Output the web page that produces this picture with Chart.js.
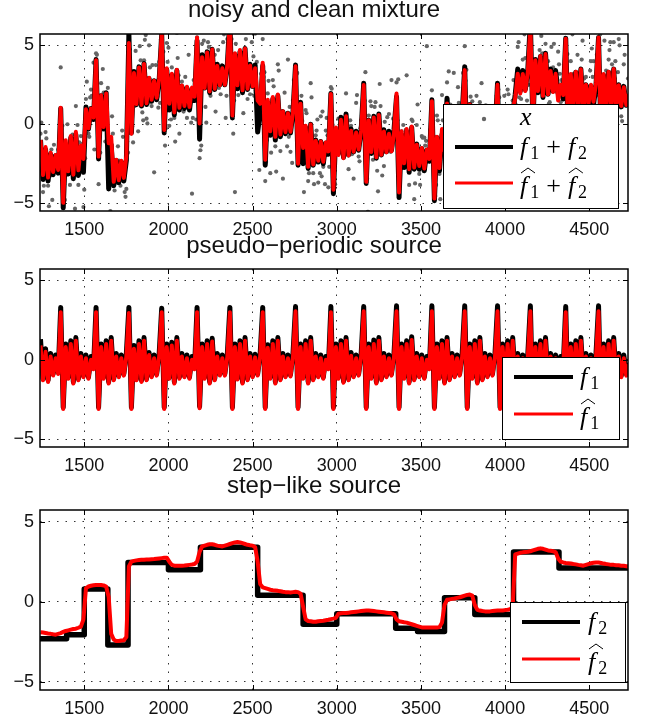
<!DOCTYPE html>
<html>
<head>
<meta charset="utf-8">
<script src="https://cdn.jsdelivr.net/npm/chart.js@4.4.0/dist/chart.umd.min.js"></script>
<style>
  html, body { margin: 0; padding: 0; background: #fff; }
  canvas { position: absolute; left: 0; }
</style>
</head>
<body>
<canvas id="mixChart" width="647" height="236" style="top:0"></canvas>
<canvas id="periodicChart" width="647" height="236" style="top:236px"></canvas>
<canvas id="stepChart" width="647" height="246" style="top:476px"></canvas>
<script>
// ---- axes ----
const xTicks = [1500, 2000, 2500, 3000, 3500, 4000, 4500];
const yTicks = [-5, 0, 5];
const xMin = 1237, xMax = 4730;
const yMin = -5.5, yMax = 5.72;

const titles = ['noisy and clean mixture', 'pseudo\u2212periodic source', 'step\u2212like source'];

// samples are read every 15 time steps, starting at 1240
const gridStart = 1240;
const gridStep = 15;

// pseudo-periodic source f1 (black)
const f1 = [
  1.3, -1.2, 0.7, -1.3, 0.4, -0.9, 0.3, -0.8,
  3.3, -3.0, 1.0, -1.1, 1.2, -1.4, 1.4, -1.2, 0.4, -1.0, 0.3, -1.1, 0.2, -0.5,
  3.3, -3.0, 1.0, -1.1, 1.2, -1.4, 1.4, -1.2, 0.4, -1.0, 0.3, -0.9, 0.4,
  3.3, -3.0, 0.9, -1.2, 1.2, -1.3, 1.4, -1.2, 0.45, -1.0, 0.3, -0.9, 0.4,
  3.25, -3.0, 1.0, -1.1, 1.1, -1.4, 1.4, -1.1, 0.4, -1.0, 0.3, -1.1, 0.2, -0.5,
  3.3, -2.95, 1.0, -1.1, 1.2, -1.4, 1.35, -1.2, 0.4, -0.9, 0.3, -0.9, 0.4,
  3.3, -3.0, 1.0, -1.15, 1.2, -1.4, 1.4, -1.2, 0.4, -1.0, 0.35, -0.9, 0.4,
  3.3, -3.0, 0.95, -1.1, 1.2, -1.4, 1.4, -1.2, 0.4, -1.0, 0.3, -0.95, 0.4,
  3.35, -3.0, 1.0, -1.1, 1.2, -1.4, 1.4, -1.2, 0.4, -1.0, 0.3, -1.1, 0.2, -0.5,
  3.35, -3.0, 1.0, -1.1, 1.2, -1.35, 1.4, -1.2, 0.45, -1.0, 0.3, -0.9, 0.4,
  3.35, -3.0, 1.0, -1.1, 1.25, -1.4, 1.4, -1.2, 0.4, -1.0, 0.3, -0.9, 0.4,
  3.4, -3.0, 1.0, -1.1, 1.2, -1.4, 1.45, -1.2, 0.4, -1.0, 0.3, -1.1, 0.2, -0.5,
  3.4, -3.0, 1.0, -1.1, 1.2, -1.4, 1.4, -1.2, 0.4, -1.0, 0.3, -0.9, 0.4,
  3.4, -3.0, 1.0, -1.1, 1.2, -1.4, 1.4, -1.2, 0.4, -1.0, 0.3, -0.9, 0.4,
  3.4, -3.0, 1.0, -1.1, 1.2, -1.4, 1.4, -1.2, 0.4, -1.0, 0.3, -0.9, 0.4,
  3.4, -3.0, 1.0, -1.1, 1.2, -1.4, 1.4, -1.2, 0.4, -1.0, 0.3, -1.1, 0.2, -0.5,
  3.35, -3.0, 1.0, -1.1, 1.2, -1.4, 1.4, -1.2, 0.4, -1.0, 0.3, -0.9, 0.4,
  3.4, -3.0, 1.0, -1.1, 1.2, -1.4, 1.4, -1.2, 0.4, -1.0, 0.3, -0.9, -0.2
];

// estimated pseudo-periodic source (red)
const f1Hat = [
  0.9, -1.3, 0.5, -1.4, 0.2, -1.0, 0.1, -0.9,
  3.0, -3.1, 0.8, -1.2, 1.0, -1.5, 1.2, -1.3, 0.2, -1.1, 0.1, -1.2, 0.0, -0.6,
  3.0, -3.1, 0.8, -1.2, 1.0, -1.5, 1.2, -1.3, 0.2, -1.1, 0.1, -1.0, 0.2,
  2.95, -3.1, 0.7, -1.3, 1.0, -1.4, 1.2, -1.3, 0.3, -1.1, 0.1, -1.0, 0.2,
  3.0, -3.1, 0.8, -1.2, 0.9, -1.5, 1.2, -1.2, 0.2, -1.1, 0.1, -1.2, 0.0, -0.6,
  3.0, -3.05, 0.8, -1.2, 1.0, -1.5, 1.15, -1.3, 0.2, -1.0, 0.1, -1.0, 0.2,
  3.0, -3.1, 0.8, -1.25, 1.0, -1.5, 1.2, -1.3, 0.2, -1.1, 0.15, -1.0, 0.2,
  3.0, -3.1, 0.75, -1.2, 1.0, -1.5, 1.2, -1.3, 0.2, -1.1, 0.1, -1.05, 0.2,
  3.05, -3.1, 0.8, -1.2, 1.0, -1.5, 1.2, -1.3, 0.2, -1.1, 0.1, -1.2, 0.0, -0.6,
  3.0, -3.1, 0.8, -1.2, 1.0, -1.45, 1.2, -1.3, 0.25, -1.1, 0.1, -1.0, 0.2,
  3.05, -3.1, 0.8, -1.2, 1.0, -1.5, 1.2, -1.3, 0.2, -1.1, 0.1, -1.0, 0.2,
  3.05, -3.1, 0.8, -1.2, 1.0, -1.5, 1.25, -1.3, 0.2, -1.1, 0.1, -1.2, 0.0, -0.6,
  3.05, -3.1, 0.8, -1.2, 1.0, -1.5, 1.2, -1.3, 0.2, -1.1, 0.1, -1.0, 0.2,
  3.05, -3.1, 0.8, -1.2, 1.0, -1.5, 1.2, -1.3, 0.2, -1.1, 0.1, -1.0, 0.2,
  3.05, -3.1, 0.8, -1.2, 1.0, -1.5, 1.2, -1.3, 0.2, -1.1, 0.1, -1.0, 0.2,
  3.05, -3.1, 0.8, -1.2, 1.0, -1.5, 1.2, -1.3, 0.2, -1.1, 0.1, -1.2, 0.0, -0.6,
  3.0, -3.1, 0.8, -1.2, 1.0, -1.5, 1.2, -1.3, 0.2, -1.1, 0.1, -1.0, 0.2,
  3.05, -3.1, 0.8, -1.2, 1.0, -1.5, 1.2, -1.3, 0.2, -1.1, 0.1, -1.0, -0.3
];

// step-like source f2: level held from each edge to the next
const f2Edges = [1237, 1395, 1500, 1640, 1760, 2000, 2190, 2530, 2800, 3000, 3350, 3480, 3640, 3820, 4050, 4320, 4735];
const f2Levels = [-2.3, -2.05, 0.8, -2.7, 2.45, 2.0, 3.4, 0.4, -1.4, -0.75, -1.65, -1.85, 0.25, -0.8, 3.1, 2.1];

// estimated step-like source (red), on the sample grid
const f2Hat = [
  -1.9, -1.92, -1.95, -1.98, -2.0, -2.03, -2.05, -2.0, -1.95, -1.88,
  -1.82, -1.78, -1.74, -1.7, -1.68, -1.62, -1.55, -1.1,
  0.85, 0.95, 1.0, 1.03, 1.05, 1.05, 1.04, 1.02, 0.95, 0.3,
  -2.0, -2.35, -2.45, -2.45, -2.42, -2.4, -2.2,
  2.2,
  2.5, 2.55, 2.58, 2.6, 2.62, 2.62, 2.63, 2.64, 2.65, 2.66, 2.68, 2.7, 2.72, 2.74, 2.75,
  2.5, 2.3,
  2.25, 2.25, 2.24, 2.25, 2.26, 2.28, 2.3, 2.32, 2.35, 2.5,
  3.1, 3.45,
  3.5, 3.55, 3.58, 3.58, 3.55, 3.5, 3.47, 3.45,
  3.5, 3.55, 3.6, 3.65, 3.7, 3.72, 3.7, 3.65,
  3.6, 3.55, 3.52, 3.5, 3.4,
  2.5, 1.1,
  0.9, 0.85, 0.8, 0.75, 0.72, 0.7, 0.68, 0.65,
  0.62, 0.6, 0.6, 0.58, 0.6, 0.62, 0.6, 0.5,
  -0.3, -1.1,
  -1.2, -1.22, -1.25, -1.25, -1.22, -1.2, -1.18, -1.15, -1.12, -1.08, -1.05,
  -1.0, -0.75,
  -0.72, -0.7, -0.7, -0.68, -0.66, -0.64, -0.62, -0.6, -0.58,
  -0.56, -0.55, -0.55, -0.56, -0.58, -0.6, -0.62, -0.64,
  -0.66, -0.68, -0.7, -0.72, -0.78,
  -1.1,
  -1.22, -1.25, -1.28, -1.3, -1.35, -1.4, -1.45,
  -1.5, -1.55, -1.6, -1.6, -1.6, -1.6, -1.6, -1.6, -1.6, -1.58,
  -1.3, -0.2,
  0.12, 0.15, 0.18, 0.2, 0.24, 0.28, 0.33, 0.38, 0.43, 0.45,
  0.38, -0.2, -0.5,
  -0.55, -0.58, -0.6, -0.6, -0.6, -0.58, -0.56, -0.55, -0.55, -0.55, -0.52, -0.5, -0.47,
  -0.3, 2.95,
  3.0, 3.05, 3.08, 3.1, 3.12, 3.15, 3.2, 3.25, 3.3,
  3.33, 3.3, 3.25, 3.2, 3.18, 3.15,
  3.1, 2.7, 2.5,
  2.45, 2.42, 2.4, 2.38, 2.35, 2.33, 2.3,
  2.28, 2.25, 2.3, 2.35, 2.4, 2.43,
  2.45, 2.45, 2.42, 2.38, 2.35, 2.33,
  2.3, 2.3, 2.28, 2.27, 2.25, 2.24, 2.22, 2.2
];

// deviation of the noisy samples x from the clean mixture (three samples per grid step)
const noiseA = [
  0.4, -0.8, 1.1, -0.3, -1.2, 0.6, -0.5, 1.5, 2.6, 0.9,
  -0.9, 0.7, -1.4, 0.2, 1.8, -0.6, 0.9, -2.2, 0.5, -0.3,
  1.2, 3.6, 0.4, -1.6, 0.8, 2.3, -0.4, 1.0, -2.5, 0.6,
  -1.1, 1.4, -0.2, 0.9, -1.8, 0.3, 1.9, -0.5, 0.7, -1.3,
  0.8, 0.2, -0.9, 2.1, -0.3, -5.8, 1.2, 1.1, -0.6, 0.4,
  1.7, -1.0, 0.5, -0.2, 2.4, -1.5, 0.3, 0.9, -1.9, 0.6,
  -6.6, 1.3, 0.2, -1.2, 0.7, -8.0, -0.8, 0.4, -1.6, 2.2,
  -0.3, 1.0, -1.1, 0.5, 1.6, -0.7, -7.4, -8.7, 0.8, -1.4,
  0.3, 1.5, -0.6, -1.9, 0.9, 2.0, -7.45, 0.2, 1.7, -1.0,
  0.6, -2.4, 1.2, -0.4, 2.0, -0.9, -4.25, 0.5, 3.4, -1.2,
  0.7, -0.3, 1.9, -1.6, 0.4, 1.1, -0.8, 2.6, -0.5, 0.3,
  -1.3, 1.6, -0.2, 0.8, -2.1, 0.4, 1.0, -0.7, 2.2, -1.1,
  0.5, 1.3, -0.9, 0.2, -1.7, 1.8, -0.4, 0.6, -1.2, 3.65,
  0.3, 3.0, -1.0, 0.7, -0.5, 1.5, -2.3, 0.4, 1.1, 4.45,
  -0.6, 0.9, -1.4, 0.2, 1.7, 3.55, -0.8, 0.5, -1.9, 1.2,
  -0.3, 0.8, 2.1, 6.6, -4.25, 0.6, -1.1, 1.4, -0.2, 2.5,
  -0.7, 1.0, -1.5, 0.3, 1.9, -0.4, 0.7, -2.6, 1.3, 0.1,
  -0.9, 2.3, 0.4, -1.2, 0.8, 3.1, -0.5, 1.6, -1.8, 0.6,
  1.1, -0.3, 2.7, -1.0, 0.5, 1.8, -2.0, 0.9, -0.6, 1.4,
  -1.3, 0.7, 2.0, -0.4, 1.2, -0.8, 2.4, 0.3, -1.5, 1.9,
  0.6, 2.1, -1.1, 1.5, -0.2, 2.6, -0.9, 0.4, 1.8, -1.4,
  0.9, 2.2, -0.5, 1.3, -1.7, 2.0, 0.5, -1.0, 1.6, 2.8,
  -0.7, 1.1, 0.3, -1.8, 2.4, 0.8, -1.2, 1.7, 0.2, 2.9,
  -0.6, 1.4, 0.5, -1.3
];
const noiseB = [
  -0.6, 0.9, -1.5, 0.3, -2.9, 1.2, -0.4, 0.8, -1.1, 0.5,
  1.3, -0.7, 0.2, -1.9, 0.6, 1.5, -0.3, 0.9, -1.2, 2.0,
  -0.5, 1.1, -2.3, 0.4, 1.7, -0.8, 0.3, -1.4, 0.7, -2.6,
  0.9, -0.2, 1.6, -1.0, 0.5, 2.2, -0.6, 1.3, -1.7, 0.4,
  -0.9, 1.8, 0.1, -1.3, 0.7, 1.0, -0.5, 2.5, -1.1, 0.3,
  1.4, -0.6, -2.0, 0.8, -0.3, 1.2, -1.6, 0.5, 2.1, -0.8,
  0.6, -1.2, 1.7, -0.4, 0.9, -2.2, 0.3, 1.5, -0.9, 0.4,
  -1.5, 0.8, 2.0, -0.7, 0.4, -1.3, 1.1, -0.2, 1.9, -1.0,
  0.5, -1.8, 0.9, 1.4, -0.6, 0.2, -2.4, 1.0, -0.4, 1.6,
  -1.1, 0.7, -0.3, 2.3, -1.4, 0.6, 1.2, -0.8, 0.4, -1.9,
  1.5, -0.5, 0.8, -1.2, 2.1, -0.3, 0.9, -1.6, 0.2, 1.3,
  -0.7, 1.9, -1.3, 0.5, 1.0, -2.0, 0.6, -0.4, 1.7, -0.9,
  0.3, -1.5, 2.2, -0.6, 0.8, -1.1, 1.4, -0.2, 0.7, -1.8,
  1.2, -0.4, 0.9, -2.1, 0.5, 1.6, -0.8, 0.3, -1.3, 2.0,
  -0.5, 1.1, -1.7, 0.6, 2.4, -0.9, 0.4, -1.2, 1.5, -0.3,
  0.8, -1.4, 1.9, -0.6, 0.2, -2.3, 1.0, -0.7, 1.3, -1.0,
  0.5, 1.7, -0.9, 2.6, -0.4, 0.8, -1.5, 1.2, -0.2, 1.8,
  -1.1, 0.6, 1.4, -0.8, 2.0, -0.3, 0.9, -1.6, 1.5, 0.3,
  2.2, -0.9, 0.7, 1.6, -1.3, 0.4, 2.5, -0.6, 1.1, -1.8,
  0.9, 2.3, -0.7, 1.4, -0.4, 1.9, -1.2, 2.7, 0.2, -0.9,
  1.6, -0.5, 2.4, 0.8, -1.4, 1.2, 0.3, 2.0, -1.0, 0.7,
  2.6, -0.3, 1.1, -1.6, 1.8, 0.4, -0.8, 2.3, 0.6, -1.2,
  1.5, 0.2, 2.1, -0.9, 0.7, 1.9, -1.5, 0.5, 2.4, -0.4,
  1.0, -1.1, 1.7, 0.3
];
const noiseC = [
  1.1, -0.4, 0.7, -1.6, 0.3, 1.9, -0.8, 0.2, -1.3, 1.5,
  -0.2, 1.2, -1.7, 0.6, -0.9, 2.1, 0.4, -1.1, 1.6, -0.5,
  0.8, -1.9, 0.3, 1.4, -0.6, 1.1, -2.0, 0.5, 1.8, -0.3,
  -1.4, 0.6, 2.0, -0.7, 1.2, -1.0, 0.4, -2.2, 0.9, 1.3,
  -0.4, 1.5, -1.2, 0.7, 2.3, -0.6, 0.2, -1.5, 1.0, -0.8,
  0.5, 1.9, -0.3, -1.7, 0.8, 1.4, -0.9, 2.0, -0.5, 1.1,
  -1.8, 0.4, 1.3, -0.7, 2.1, -1.2, 0.6, -0.2, 1.7, -1.4,
  0.9, -0.6, 1.5, -2.1, 0.3, 1.8, -1.0, 0.7, -0.4, 2.2,
  -1.3, 0.6, 1.1, -0.8, 1.9, -1.6, 0.4, 2.4, -0.7, 0.2,
  1.4, -1.1, 0.8, -2.0, 1.6, 0.3, -0.9, 1.2, -1.5, 0.5,
  2.0, -0.6, 1.3, 0.4, -1.8, 0.9, -0.3, 1.7, -1.2, 0.6,
  1.1, -2.2, 0.5, 1.6, -0.8, 0.3, 2.1, -1.4, 0.7, -0.5,
  1.8, -0.9, 0.4, -1.6, 1.2, 2.3, -0.7, 0.9, -1.1, 0.3,
  -2.0, 1.4, 0.6, -0.8, 1.9, -1.3, 0.5, 2.2, -0.6, 1.0,
  0.2, -1.5, 1.7, -0.4, 0.8, -2.1, 1.3, 0.4, -0.9, 2.5,
  -1.0, 0.7, 1.6, -0.5, 2.0, -1.4, 0.3, 1.1, -1.8, 0.9,
  1.5, -0.7, 2.2, 0.4, -1.2, 1.8, -0.3, 2.6, -0.9, 1.0,
  0.5, 1.9, -1.1, 2.4, 0.2, -0.8, 1.6, 0.9, -1.5, 2.1,
  1.2, -0.4, 2.8, 0.6, -1.3, 1.5, 0.3, 2.2, -0.7, 1.7,
  -0.5, 2.5, 0.8, -1.0, 1.9, 0.4, 2.6, -1.2, 1.3, 0.7,
  2.3, -0.6, 1.4, 3.0, -0.9, 1.8, 0.5, -1.4, 2.1, 0.9,
  -0.3, 1.6, 2.7, -1.1, 0.6, 2.0, -0.4, 1.3, 2.4, -0.8,
  1.9, 0.3, -1.0, 2.2, 0.7, 1.4, 3.1, -0.6, 1.1, 2.5,
  -0.9, 2.0, 0.6, 1.5
];

// legend labels: pieces of math text
const mixLabels = [
  [{ t: 'x' }],
  [{ t: 'f', sub: '1' }, { op: '+' }, { t: 'f', sub: '2' }],
  [{ t: 'f', sub: '1', hat: true }, { op: '+' }, { t: 'f', sub: '2', hat: true }]
];
const periodicLabels = [
  [{ t: 'f', sub: '1' }],
  [{ t: 'f', sub: '1', hat: true }]
];
const stepLabels = [
  [{ t: 'f', sub: '2' }],
  [{ t: 'f', sub: '2', hat: true }]
];

// ---- build series ----
const sampleX = f1.map((_, i) => gridStart + gridStep * i);

function f2At(x) {
  let k = 0;
  while (k < f2Levels.length - 1 && x >= f2Edges[k + 1]) k++;
  return f2Levels[k];
}

const f1Points = sampleX.map((x, i) => ({ x, y: f1[i] }));
const f1HatPoints = sampleX.map((x, i) => ({ x, y: f1Hat[i] }));
const f2HatPoints = sampleX.map((x, i) => ({ x, y: f2Hat[i] }));
const f2Points = f2Levels.map((v, k) => ({ x: f2Edges[k], y: v }));
f2Points.push({ x: f2Edges[f2Edges.length - 1], y: f2Levels[f2Levels.length - 1] });

const cleanMix = sampleX.map((x, i) => ({ x, y: f1[i] + f2At(x) }));
const estMix = sampleX.map((x, i) => ({ x, y: f1Hat[i] + f2Hat[i] }));
const noisyMix = [];
sampleX.forEach((x, i) => {
  noisyMix.push({ x, y: cleanMix[i].y + noiseA[i] });
  noisyMix.push({ x: x + 5, y: cleanMix[i].y + noiseC[i] });
  noisyMix.push({ x: x + 10, y: cleanMix[i].y + noiseB[i] });
});

// ---- plugins ----
const tickFont = { family: '"Liberation Sans", Arial, sans-serif', size: 18 };
const mathFont = '"Liberation Serif", "Times New Roman", serif';

// box around the axes with inward tick marks on all four sides
const axesBox = {
  id: 'axesBox',
  afterDatasetsDraw(chart) {
    const { ctx, chartArea: a, scales: { x, y } } = chart;
    ctx.save();
    ctx.strokeStyle = '#000';
    ctx.lineWidth = 1;
    ctx.beginPath();
    x.ticks.forEach(t => {
      const px = Math.round(x.getPixelForValue(t.value)) + 0.5;
      ctx.moveTo(px, a.bottom); ctx.lineTo(px, a.bottom - 5);
      ctx.moveTo(px, a.top); ctx.lineTo(px, a.top + 5);
    });
    y.ticks.forEach(t => {
      const py = Math.round(y.getPixelForValue(t.value)) + 0.5;
      ctx.moveTo(a.left, py); ctx.lineTo(a.left + 5, py);
      ctx.moveTo(a.right, py); ctx.lineTo(a.right - 5, py);
    });
    ctx.stroke();
    ctx.lineWidth = 1.5;
    ctx.strokeRect(a.left, a.top, a.width, a.height);
    ctx.restore();
  }
};

function drawMath(ctx, x, base, parts) {
  ctx.fillStyle = '#000';
  ctx.textBaseline = 'alphabetic';
  ctx.textAlign = 'left';
  parts.forEach(p => {
    if (p.op) {
      x += 7;
      ctx.font = '26px ' + mathFont;
      ctx.fillText(p.op, x, base);
      x += ctx.measureText(p.op).width + 7;
      return;
    }
    const x0 = x;
    ctx.font = 'italic 26px ' + mathFont;
    ctx.fillText(p.t, x, base);
    x += ctx.measureText(p.t).width + (p.sub ? 3 : 0);
    if (p.sub) {
      ctx.font = '18px ' + mathFont;
      ctx.fillText(p.sub, x, base + 4);
      x += ctx.measureText(p.sub).width;
    }
    if (p.hat) {
      ctx.save();
      ctx.lineWidth = 1;
      ctx.strokeStyle = '#000';
      ctx.beginPath();
      ctx.moveTo(x0 + 1, base - 21);
      ctx.lineTo(x0 + 8, base - 26);
      ctx.lineTo(x0 + 15, base - 21);
      ctx.stroke();
      ctx.restore();
    }
  });
}

// legend drawn as a boxed list inside the axes
const mathLegend = {
  id: 'mathLegend',
  afterDraw(chart, args, opts) {
    if (!opts.box) return;
    const ctx = chart.ctx;
    const [bx, by, bw, bh] = opts.box;
    ctx.save();
    ctx.fillStyle = '#fff';
    ctx.fillRect(bx, by, bw, bh);
    ctx.strokeStyle = '#000';
    ctx.lineWidth = 1;
    ctx.strokeRect(bx + 0.5, by + 0.5, bw, bh);
    opts.rows.forEach((row, i) => {
      if (row.dot) {
        ctx.fillStyle = row.color;
        ctx.beginPath();
        ctx.arc(opts.dotX, row.y, 2.2, 0, Math.PI * 2);
        ctx.fill();
      } else {
        ctx.strokeStyle = row.color;
        ctx.lineWidth = row.width;
        ctx.beginPath();
        ctx.moveTo(opts.lineX[0], row.y);
        ctx.lineTo(opts.lineX[1], row.y);
        ctx.stroke();
      }
      drawMath(ctx, opts.textX, row.y + row.base, opts.labels[i]);
    });
    ctx.restore();
  }
};

function makeChart(id, title, datasets, titleGap, axisHeight, legend) {
  return new Chart(document.getElementById(id), {
    type: 'scatter',
    data: { datasets },
    plugins: [axesBox, mathLegend],
    options: {
      responsive: false,
      devicePixelRatio: 1,
      animation: false,
      layout: { padding: { left: 0, right: 19, top: 0, bottom: 0 } },
      plugins: {
        legend: { display: false },
        tooltip: { enabled: false },
        title: {
          display: true,
          text: title,
          color: '#111',
          font: { family: tickFont.family, size: 24, weight: 'normal', lineHeight: 0.85 },
          padding: { top: 0, bottom: titleGap }
        },
        mathLegend: legend
      },
      scales: {
        x: {
          type: 'linear',
          min: xMin,
          max: xMax,
          afterBuildTicks: s => { s.ticks = xTicks.map(v => ({ value: v })); },
          afterFit: s => { s.height = axisHeight; },
          grid: { color: '#333', lineWidth: 1, drawTicks: false },
          border: { display: false, dash: [1.5, 7] },
          ticks: { font: tickFont, color: '#111', padding: 8, maxRotation: 0, callback: v => String(v) }
        },
        y: {
          min: yMin,
          max: yMax,
          afterBuildTicks: s => { s.ticks = yTicks.map(v => ({ value: v })); },
          afterFit: s => { s.width = 40; },
          grid: { color: '#333', lineWidth: 1, drawTicks: false },
          border: { display: false, dash: [1.5, 7] },
          ticks: {
            font: tickFont, color: '#111', padding: 6,
            callback: v => (v < 0 ? '\u2212' + Math.abs(v) : String(v))
          }
        }
      }
    }
  });
}

// lower order is drawn on top
function lineSet(data, color, width, order, extra) {
  return Object.assign({
    data, order, showLine: true, borderColor: color, borderWidth: width,
    pointRadius: 0, tension: 0, borderJoinStyle: 'round'
  }, extra || {});
}

makeChart('mixChart', titles[0], [
  { data: noisyMix, order: 2, showLine: false, pointRadius: 2.1, pointBorderWidth: 0,
    pointBackgroundColor: '#656565', pointBorderColor: '#656565' },
  lineSet(cleanMix, '#000', 5, 1),
  lineSet(estMix, '#ff0000', 4, 0)
], 13.6, 25, {
  box: [443, 104, 175, 104],
  dotX: 484, lineX: [455, 513], textX: 520,
  labels: mixLabels,
  rows: [
    { dot: true, color: '#656565', y: 119, base: 6 },
    { color: '#000', width: 4, y: 147, base: 8 },
    { color: '#ff0000', width: 3, y: 183, base: 11 }
  ]
});

makeChart('periodicChart', titles[1], [
  lineSet(f1Points, '#000', 5, 1),
  lineSet(f1HatPoints, '#ff0000', 4, 0)
], 12.6, 25, {
  box: [502, 121, 117, 82],
  lineX: [514, 573], textX: 580,
  labels: periodicLabels,
  rows: [
    { color: '#000', width: 4, y: 141, base: 8 },
    { color: '#ff0000', width: 3, y: 178, base: 11 }
  ]
});

makeChart('stepChart', titles[2], [
  lineSet(f2Points, '#000', 5.5, 1, { stepped: 'before' }),
  lineSet(f2HatPoints, '#ff0000', 4, 0)
], 13.6, 32, {
  box: [510, 126, 115, 80],
  lineX: [522, 580], textX: 588,
  labels: stepLabels,
  rows: [
    { color: '#000', width: 4, y: 146, base: 8 },
    { color: '#ff0000', width: 3, y: 183, base: 11 }
  ]
});
</script>
</body>
</html>
